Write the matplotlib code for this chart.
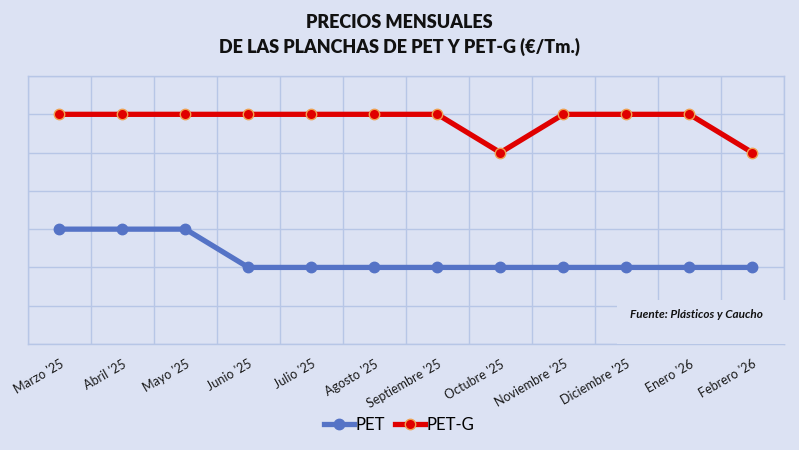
import matplotlib
matplotlib.use("Agg")
import matplotlib.pyplot as plt
from matplotlib.patches import Rectangle

BG = "#DCE2F3"
GRID = "#B7C6E6"
OUT = "out.png"

months = ["Marzo '25", "Abril '25", "Mayo '25", "Junio '25", "Julio '25", "Agosto '25",
          "Septiembre '25", "Octubre '25", "Noviembre '25", "Diciembre '25", "Enero '26",
          "Febrero '26"]
# no y labels in the source; values expressed in grid units
pet = [3, 3, 3, 2, 2, 2, 2, 2, 2, 2, 2, 2]
petg = [6, 6, 6, 6, 6, 6, 6, 5, 6, 6, 6, 5]

plt.rcParams["font.family"] = ["Lato", "DejaVu Sans"]

fig = plt.figure(figsize=(7.99, 4.5), dpi=100, facecolor=BG)
ax = fig.add_axes([0.035, 0.2356, 0.946, 0.5954], facecolor=BG)

x = list(range(len(months)))
ax.plot(x, pet, "-o", color="#5573C6", lw=3.8, ms=7.5, mfc="#5573C6", mec="#5573C6",
        label="PET", zorder=3)
ax.plot(x, petg, "-o", color="#E00000", lw=3.8, ms=7.5, mfc="#E00000", mec="#F0A050",
        mew=1.0, label="PET-G", zorder=4)

ax.set_xlim(-0.5, len(months) - 0.5)
ax.set_ylim(0, 7)
ax.set_yticks(range(0, 8))
ax.set_yticklabels([])
ax.set_xticks([i + 0.5 for i in range(-1, len(months))], minor=False)
ax.set_xticklabels([])
ax.set_xticks(x, minor=True)
ax.set_xticklabels(months, minor=True, rotation=30, ha="right", rotation_mode="anchor",
                   fontsize=9, color="#1A1A1A")
ax.tick_params(axis="both", which="both", length=0)
ax.tick_params(axis="x", which="minor", pad=10)
ax.grid(True, which="major", color=GRID, lw=1)
for s in ax.spines.values():
    s.set_color(GRID)
    s.set_linewidth(1)

# source note box over the grid
ax.add_patch(Rectangle((8.85, 0.0), 2.68, 1.15, facecolor=BG, edgecolor="none",
                       transform=ax.transData, zorder=5, clip_on=False))
ax.text(10.12, 0.76, "Fuente: Plásticos y Caucho", ha="center", va="center",
        fontsize=8.5, fontweight="bold", fontstyle="italic", color="#111111", zorder=6)

fig.text(0.5, 0.95, "PRECIOS MENSUALES", ha="center", va="center",
         fontsize=13, fontweight="heavy", color="#111111")
fig.text(0.5, 0.895, "DE LAS PLANCHAS DE PET Y PET-G (€/Tm.)", ha="center", va="center",
         fontsize=13, fontweight="heavy", color="#111111")

fig.legend(loc="center", bbox_to_anchor=(0.5, 0.055), ncol=2, frameon=False,
           fontsize=12, handlelength=1.8, columnspacing=0.6, handletextpad=0.1)

fig.savefig(OUT, dpi=100, facecolor=BG)
